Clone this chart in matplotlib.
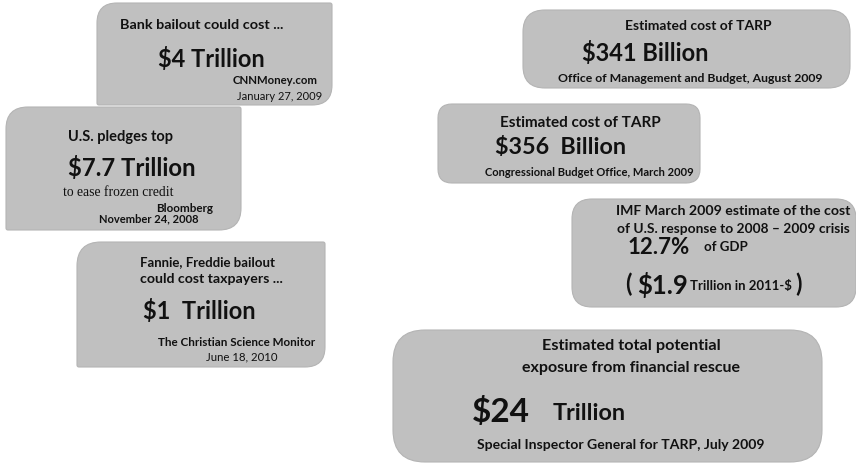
import matplotlib
matplotlib.use("Agg")
import matplotlib.pyplot as plt
from matplotlib.path import Path
from matplotlib.patches import PathPatch

# headline estimates of the bailout cost, as reported
headlines = [
    "Bank bailout could cost ...",
    "U.S. pledges top",
    "Fannie, Freddie bailout\ncould cost taxpayers ...",
    "Estimated cost of TARP",
    "Estimated cost of TARP",
    "IMF March 2009 estimate of the cost\nof U.S. response to 2008 \u2013 2009 crisis",
    "Estimated total potential\nexposure from financial rescue",
]
amounts = ["$4", "$7.7", "$1", "$341", "$356", "12.7%", "$24"]
units = ["Trillion", "Trillion", "Trillion", "Billion", "Billion", "of GDP", "Trillion"]
sources = [
    "CNNMoney.com",
    "Bloomberg",
    "The Christian Science Monitor",
    "Office of Management and Budget, August 2009",
    "Congressional Budget Office, March 2009",
    "",
    "Special Inspector General for TARP, July 2009",
]
dates = ["January 27, 2009", "November 24, 2008", "June 18, 2010", "", "", "", ""]
imf_dollars = "$1.9"
imf_note = "Trillion in 2011-$"
bloomberg_sub = "to ease frozen credit"

FILL = "#c0c0c0"
INK = "#111111"
FONT = "Lato"


def box(ax, x0, y0, x1, y1, r):
    # r = radii of (top-left, top-right, bottom-right, bottom-left)
    tl, tr, br, bl = r
    verts = [
        (x0 + tl, y0), (x1 - tr, y0), (x1, y0), (x1, y0 + tr),
        (x1, y1 - br), (x1, y1), (x1 - br, y1),
        (x0 + bl, y1), (x0, y1), (x0, y1 - bl),
        (x0, y0 + tl), (x0, y0), (x0 + tl, y0), (x0 + tl, y0),
    ]
    codes = [
        Path.MOVETO, Path.LINETO, Path.CURVE3, Path.CURVE3,
        Path.LINETO, Path.CURVE3, Path.CURVE3,
        Path.LINETO, Path.CURVE3, Path.CURVE3,
        Path.LINETO, Path.CURVE3, Path.CURVE3, Path.CLOSEPOLY,
    ]
    ax.add_patch(PathPatch(Path(verts, codes), facecolor=FILL,
                           edgecolor="#b4b4b4", lw=0.8, zorder=1))


def txt(ax, x, y, s, size, weight="bold", ha="center", **kw):
    kw.setdefault("family", FONT)
    ax.text(x, y, s, fontsize=size, fontweight=weight, ha=ha, va="center",
            color=INK, zorder=2, **kw)


def lines(ax, x, ys, s, sizes, ha="center"):
    # multi-line headline, one text per line so the spacing can be set
    for y, part, size in zip(ys, s.split("\n"), sizes):
        txt(ax, x, y, part, size, ha=ha)


fig = plt.figure(figsize=(8.56, 4.63), dpi=100)
ax = fig.add_axes([0, 0, 1, 1])
ax.set_xlim(0, 856)
ax.set_ylim(463, 0)
ax.axis("off")

# left column: diagonal-corner boxes
box(ax, 97, 3, 332, 105, (20, 2, 20, 2))
txt(ax, 202, 25, headlines[0], 10.4)
txt(ax, 211, 59, f"{amounts[0]} {units[0]}", 17)
txt(ax, 318, 81, sources[0], 8.2, ha="right")
txt(ax, 322, 96, dates[0], 8, weight="normal", ha="right")

box(ax, 6, 107, 241, 230, (22, 2, 22, 2))
txt(ax, 68, 137, headlines[1], 10.5, ha="left")
txt(ax, 68, 168, f"{amounts[1]} {units[1]}", 17.2, ha="left")
txt(ax, 63, 193, bloomberg_sub, 9.8, weight="normal", ha="left",
    family="Liberation Serif")
txt(ax, 213, 208, sources[1], 8.4, ha="right")
txt(ax, 199, 219, dates[1], 8, ha="right")

box(ax, 77, 242, 325, 367, (24, 2, 20, 2))
lines(ax, 140, (262, 279), headlines[2], (9.5, 10.2), ha="left")
txt(ax, 143, 311, f"{amounts[2]}  {units[2]}", 17, ha="left")
txt(ax, 315, 342, sources[2], 8.4, ha="right")
txt(ax, 242, 357, dates[2], 8.2, weight="normal")

# right column: rounded boxes
box(ax, 523, 10, 850, 88, (22, 22, 22, 22))
txt(ax, 698, 26, headlines[3], 10)
txt(ax, 582, 53, f"{amounts[3]} {units[3]}", 17, ha="left")
txt(ax, 690, 78, sources[3], 8.8)

box(ax, 438, 104, 700, 183, (14, 14, 14, 14))
txt(ax, 580, 123, headlines[4], 11)
txt(ax, 495, 147, f"{amounts[4]}  {units[4]}", 16.8, ha="left")
txt(ax, 589, 172, sources[4], 8.0)

box(ax, 572, 199, 856, 307, (20, 20, 20, 20))
lines(ax, 733, (211, 229), headlines[5], (10.2, 9.9))
txt(ax, 628, 248, amounts[5], 16, ha="left")
txt(ax, 704, 247, units[5], 9.5, ha="left")
txt(ax, 625, 284, "(", 17, ha="left")
txt(ax, 637, 285, imf_dollars, 18.5, ha="left")
txt(ax, 690, 286, imf_note, 9.5, ha="left")
txt(ax, 795, 284, ")", 17, ha="left")

box(ax, 393, 330, 822, 462, (32, 32, 32, 32))
lines(ax, 631, (346, 368), headlines[6], (11.7, 11.5))
txt(ax, 472, 412, amounts[6], 24, ha="left")
txt(ax, 553, 413, units[6], 16.9, ha="left")
txt(ax, 621, 445, sources[6], 10.1)

fig.savefig("out.png", dpi=100)
